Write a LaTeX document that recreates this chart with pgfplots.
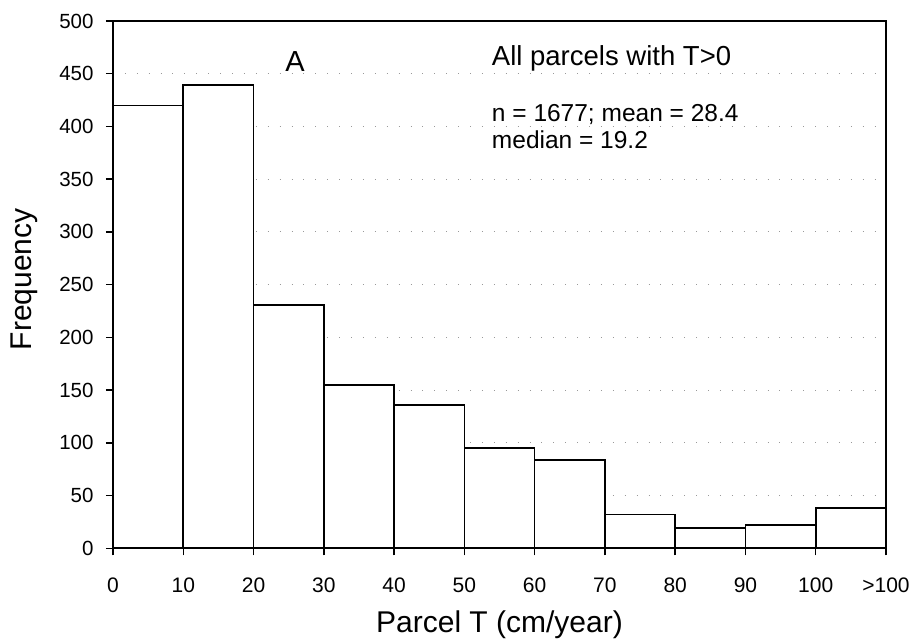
\documentclass[border=0pt]{standalone}
\usepackage{pgfplots}
\pgfplotsset{compat=1.18}
\usepackage{fontspec}
\setmainfont{Liberation Sans}
\newcommand\xtl{\fontsize{21}{24}\selectfont}
\newcommand\ytl{\fontsize{20.5}{23}\selectfont}

\begin{document}
\begin{tikzpicture}
\path[use as bounding box] (-113pt,-93.7pt) rectangle (799pt,548.3pt);
\begin{axis}[
  at={(0pt,0pt)}, anchor=south west,
  scale only axis,
  width=773pt, height=527.3pt,
  xmin=0, xmax=110, ymin=0, ymax=500,
  xtick={0,10,...,110},
  xticklabels={\xtl 0,\xtl 10,\xtl 20,\xtl 30,\xtl 40,\xtl 50,\xtl 60,
               \xtl 70,\xtl 80,\xtl 90,\xtl 100,{\xtl >100}},
  ytick={0,50,...,500},
  yticklabel={\ytl\pgfmathprintnumber{\tick}},
  xtick pos=left, ytick pos=left,
  tick align=outside,
  major tick length=7pt,
  every tick/.style={black, line width=1.4pt},
  axis line style={black, line width=1.8pt},
  ymajorgrids,
  major grid style={black!40, line width=0.9pt, dash pattern=on 0.9pt off 11pt},
  /pgf/number format/assume math mode=true,
  xticklabel style={anchor=base, yshift=-37.4pt},
  yticklabel style={anchor=east, xshift=-9pt},
  xlabel={Parcel T (cm/year)},
  ylabel={Frequency},
  label style={font=\fontsize{30}{34}\selectfont},
  xlabel style={at={(axis description cs:0.5,-0.1606)}, anchor=base},
  ylabel style={at={(axis description cs:-0.1151,0.51)}, anchor=center},
  clip=false,
]
% histogram counts per 10 cm/year class; last class is everything above 100
\addplot[ybar interval, fill=white, draw=black, line width=1.7pt]
  coordinates {
    (0,420) (10,439) (20,231) (30,155) (40,136) (50,95)
    (60,84) (70,32) (80,19) (90,22) (100,38) (110,38)
  };
\node[anchor=base west, inner sep=0pt, font=\fontsize{29}{32}\selectfont]
  at (axis cs:24.5,452.2) {A};
\node[anchor=base west, inner sep=0pt, font=\fontsize{27.5}{30}\selectfont]
  at (axis cs:53.9,457.9) {All parcels with T>0};
\node[anchor=base west, inner sep=0pt, font=\fontsize{24.5}{27}\selectfont]
  at (axis cs:53.9,404.7) {n = 1677; mean = 28.4};
\node[anchor=base west, inner sep=0pt, font=\fontsize{24.5}{27}\selectfont]
  at (axis cs:53.9,379.5) {median = 19.2};
\end{axis}
\end{tikzpicture}
\end{document}
